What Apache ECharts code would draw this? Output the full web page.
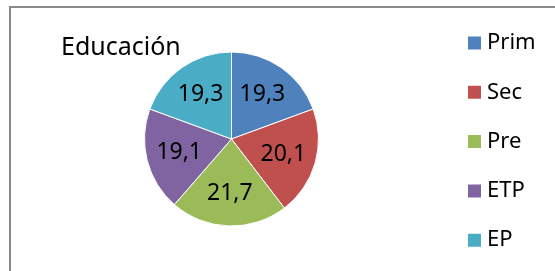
<!DOCTYPE html>
<html>
<head>
<meta charset="utf-8">
<script src="https://cdn.jsdelivr.net/npm/echarts@6/dist/echarts.min.js"></script>
<style>
    html, body {
        margin: 0;
        padding: 0;
        background: #fff;
    }
    #frame {
        position: absolute;
        left: 9px;
        top: 6px;
        width: 600px;
        height: 300px;
        border-left: 2px solid #8a8a8a;
        border-top: 2px solid #8a8a8a;
    }
    #educacion {
        position: absolute;
        left: 0;
        top: 0;
        width: 555px;
        height: 271px;
    }
</style>
</head>
<body>
<div id="frame"></div>
<div id="educacion"></div>
<script>
// Educación - gráfico de torta
var categorias = ['Prim', 'Sec', 'Pre', 'ETP', 'EP'];
var valores = [19.3, 20.1, 21.7, 19.1, 19.3];
var colores = ['#4f81bd', '#c0504d', '#9bbb59', '#8064a2', '#4bacc6'];

function showEducacion() {
    var chart = echarts.init(document.getElementById('educacion'));
    var data = [];
    var labels = [];
    for (var i = 0; i < categorias.length; i++) {
        data.push({
            value: valores[i],
            name: categorias[i],
            itemStyle: {
                color: colores[i]
            }
        });
        // capa transparente solo para ubicar las etiquetas un poco más afuera
        labels.push({
            value: valores[i],
            name: categorias[i],
            itemStyle: {
                color: 'rgba(0,0,0,0)'
            }
        });
    }
    var option = {
        animation: false,
        title: {
            text: 'Educación',
            left: 61,
            top: 35,
            padding: 0,
            textStyle: {
                fontFamily: 'Noto Sans',
                fontWeight: 'normal',
                fontSize: 25,
                color: '#000'
            }
        },
        legend: {
            orient: 'vertical',
            left: 466,
            top: 32,
            padding: 0,
            icon: 'rect',
            itemWidth: 15,
            itemHeight: 15,
            itemGap: 27.3,
            data: categorias,
            textStyle: {
                fontFamily: 'Noto Sans',
                fontSize: 22,
                lineHeight: 21,
                color: '#000'
            }
        },
        series: [
            {
                type: 'pie',
                center: [231.5, 139],
                radius: [0, 87],
                clockwise: true,
                startAngle: 90,
                silent: true,
                itemStyle: {
                    borderColor: '#fff',
                    borderWidth: 1
                },
                label: {
                    show: false
                },
                labelLine: {
                    show: false
                },
                data: data
            },
            {
                type: 'pie',
                center: [231.5, 139],
                radius: [0, 102],
                clockwise: true,
                startAngle: 90,
                silent: true,
                label: {
                    show: true,
                    position: 'inside',
                    fontFamily: 'Noto Sans',
                    fontSize: 23,
                    color: '#000',
                    formatter: function (params) {
                        return String(params.value).replace('.', ',');
                    }
                },
                labelLine: {
                    show: false
                },
                data: labels
            }
        ]
    };
    chart.setOption(option);
}

showEducacion();
</script>
</body>
</html>
